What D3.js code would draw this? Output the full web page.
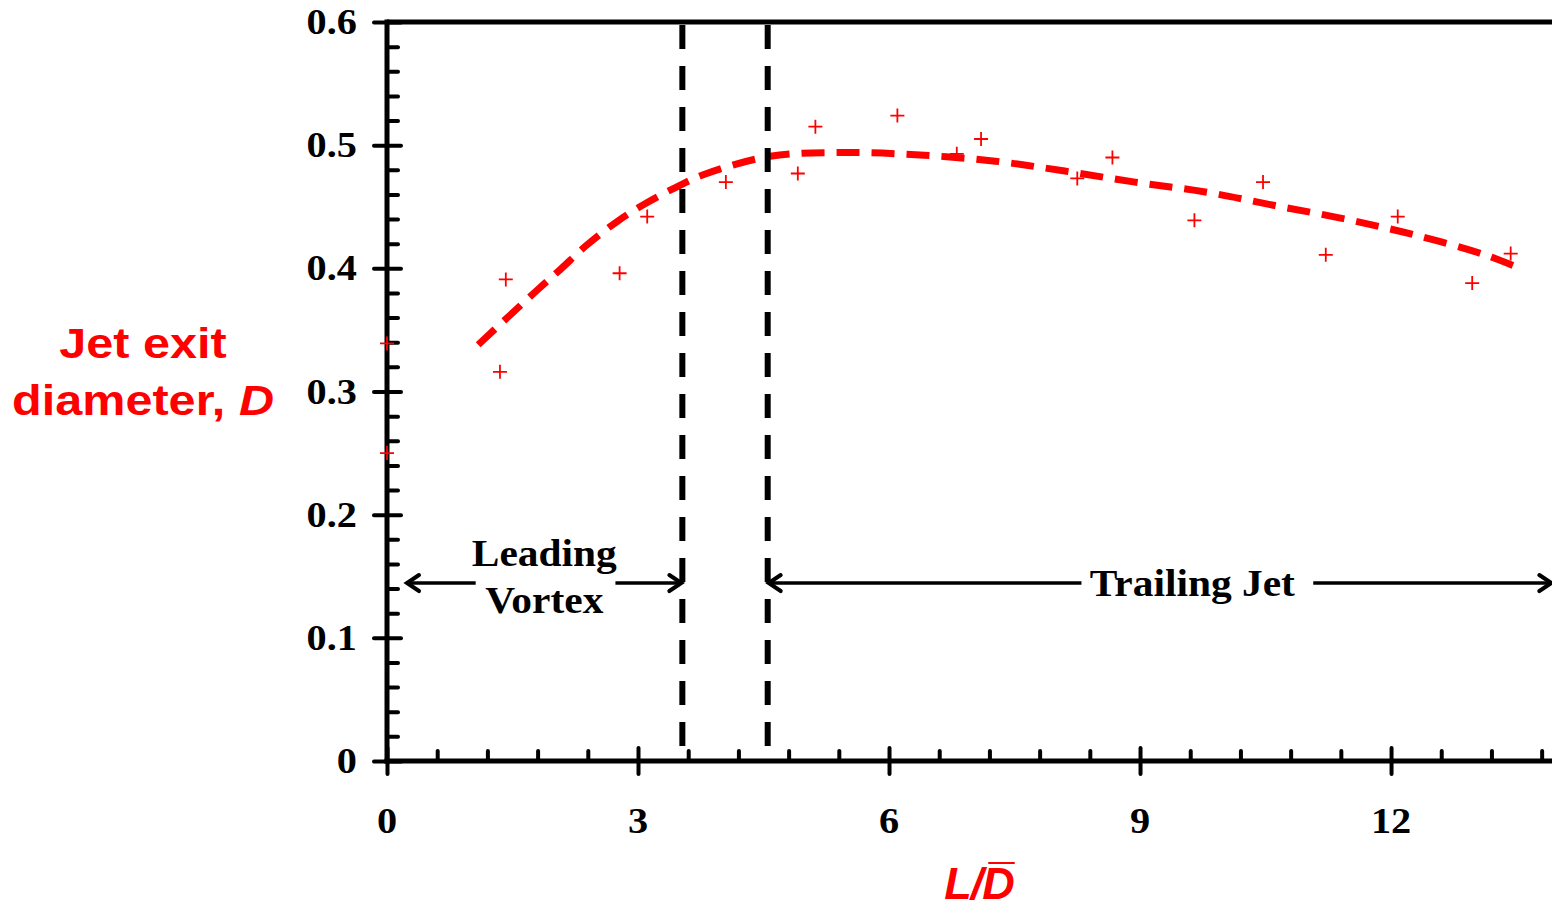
<!DOCTYPE html>
<html>
<head>
<meta charset="utf-8">
<script src="https://cdn.jsdelivr.net/npm/d3@7"></script>
<style>
  html, body { margin: 0; padding: 0; background: #fff; overflow: hidden; }
  svg { display: block; }
  .serif { font-family: "Liberation Serif", "Times New Roman", Times, serif; font-weight: bold; }
  .sans { font-family: "Liberation Sans", Arial, Helvetica, sans-serif; font-weight: bold; }
</style>
</head>
<body>
<svg id="chart" width="1552" height="905"></svg>
<script>
// ---------------- data ----------------
const pointX = [0, 0, 1.35, 1.42, 2.78, 3.11, 4.05, 4.91, 5.12, 6.10, 6.81, 7.10, 8.25, 8.67, 9.65, 10.47, 11.22, 12.08, 12.97, 13.43];
const pointY = [0.339, 0.250, 0.316, 0.391, 0.396, 0.442, 0.470, 0.477, 0.515, 0.524, 0.493, 0.505, 0.473, 0.490, 0.439, 0.470, 0.411, 0.442, 0.388, 0.412];

const trendX = [1.09, 1.79, 2.07, 2.39, 2.75, 3.10, 3.46, 3.78, 4.58, 5.47, 6.37, 7.27, 8.10, 8.94, 9.78, 10.61, 11.45, 12.29, 13.12, 13.54];
const trendY = [0.338, 0.382, 0.399, 0.419, 0.438, 0.453, 0.466, 0.476, 0.491, 0.494, 0.492, 0.487, 0.479, 0.470, 0.462, 0.451, 0.440, 0.427, 0.411, 0.400];

const regionBounds = [3.53, 4.55];       // vertical dashed separators (L/D)
const xMajorTicks = [0, 3, 6, 9, 12];
const yMajorTicks = [0, 0.1, 0.2, 0.3, 0.4, 0.5, 0.6];
const xTickLabels = ["0", "3", "6", "9", "12"];
const yTickLabels = ["0", "0.1", "0.2", "0.3", "0.4", "0.5", "0.6"];
const annotations = ["Leading", "Vortex", "Trailing Jet"];
const yLabelLines = ["Jet exit", "diameter, "];
const yLabelVar = "D";

// ---------------- layout ----------------
const svg = d3.select("#chart");
const SX = 1.12;  // horizontal stretch of the original figure's text
const x = d3.scaleLinear().domain([0, 14]).range([387, 387 + 14 * 83.67]);
const y = d3.scaleLinear().domain([0, 0.6]).range([761, 22]);
const red = "#ff0000";

// trend line (dashed red)
const line = d3.line().x((d, i) => x(trendX[i])).y((d, i) => y(trendY[i])).curve(d3.curveCatmullRom.alpha(0.5));
svg.append("path")
  .attr("d", line(trendX))
  .attr("fill", "none")
  .attr("stroke", red)
  .attr("stroke-width", 7)
  .attr("stroke-dasharray", "23,12");

// vertical dashed separators
svg.selectAll("line.sep").data(regionBounds).join("line")
  .attr("class", "sep")
  .attr("x1", d => x(d)).attr("x2", d => x(d))
  .attr("y1", y(0.6) + 3).attr("y2", y(0))
  .attr("stroke", "#000").attr("stroke-width", 6)
  .attr("stroke-dasharray", "24,17");

// ---------------- axes ----------------
const xMinor = d3.range(0, 14.01, 0.6).filter(v => !xMajorTicks.some(m => Math.abs(m - v) < 1e-6));
const yMinor = d3.range(0, 0.6001, 0.02).filter(v => !yMajorTicks.some(m => Math.abs(m - v) < 1e-6));

// top frame line
svg.append("line")
  .attr("x1", x(0)).attr("x2", x(14))
  .attr("y1", y(0.6)).attr("y2", y(0.6))
  .attr("stroke", "#000").attr("stroke-width", 5);

function styleAxis(g) {
  g.select(".domain").remove();
  g.selectAll(".tick line").attr("stroke", "#000").attr("stroke-width", 4).attr("stroke-linecap", "round");
  g.selectAll(".tick text").remove();
}

svg.append("g").attr("transform", `translate(${x(0)},0)`)
  .call(d3.axisLeft(y).tickValues(yMajorTicks).tickSize(13)).call(styleAxis);
svg.append("g").attr("transform", `translate(${x(0)},0)`)
  .call(d3.axisRight(y).tickValues(yMajorTicks).tickSize(14)).call(styleAxis);
svg.append("g").attr("transform", `translate(${x(0)},0)`)
  .call(d3.axisRight(y).tickValues(yMinor).tickSize(11)).call(styleAxis);

svg.append("g").attr("transform", `translate(0,${y(0)})`)
  .call(d3.axisBottom(x).tickValues(xMajorTicks).tickSize(13)).call(styleAxis);
svg.append("g").attr("transform", `translate(0,${y(0)})`)
  .call(d3.axisTop(x).tickValues(xMajorTicks).tickSize(13)).call(styleAxis);
svg.append("g").attr("transform", `translate(0,${y(0)})`)
  .call(d3.axisTop(x).tickValues(xMinor).tickSize(10)).call(styleAxis);

// axis lines
svg.append("line")
  .attr("x1", x(0)).attr("x2", x(0)).attr("y1", y(0.6) - 2.5).attr("y2", y(0) + 2.5)
  .attr("stroke", "#000").attr("stroke-width", 5);
svg.append("line")
  .attr("x1", x(0) - 2.5).attr("x2", x(14)).attr("y1", y(0)).attr("y2", y(0))
  .attr("stroke", "#000").attr("stroke-width", 5);

// tick labels
svg.selectAll("text.ytl").data(yMajorTicks).join("text")
  .attr("class", "ytl serif")
  .attr("transform", d => `translate(${x(0) - 30},${y(d) + 12}) scale(${SX},1)`)
  .attr("text-anchor", "end")
  .attr("font-size", 36)
  .text((d, i) => yTickLabels[i]);
svg.selectAll("text.xtl").data(xMajorTicks).join("text")
  .attr("class", "xtl serif")
  .attr("transform", d => `translate(${x(d)},${y(0) + 72}) scale(${SX},1)`)
  .attr("text-anchor", "middle")
  .attr("font-size", 36)
  .text((d, i) => xTickLabels[i]);

// scatter "+" markers
const ms = 7;
svg.selectAll("path.pt").data(pointX).join("path")
  .attr("class", "pt")
  .attr("d", (d, i) => `M${x(d) - ms},${y(pointY[i])}H${x(d) + ms}M${x(d)},${y(pointY[i]) - ms}V${y(pointY[i]) + ms}`)
  .attr("stroke", red).attr("stroke-width", 1.8).attr("fill", "none");

// ---------------- annotations ----------------
const arrowY = y(0.1445);
function arrow(x1, x2) { // arrow head at x2
  svg.append("line").attr("x1", x1).attr("x2", x2).attr("y1", arrowY).attr("y2", arrowY)
    .attr("stroke", "#000").attr("stroke-width", 3.5);
  const dir = x2 > x1 ? -1 : 1;
  svg.append("path")
    .attr("d", `M${x2 + dir * 12},${arrowY - 8}L${x2},${arrowY}L${x2 + dir * 12},${arrowY + 8}`)
    .attr("fill", "none").attr("stroke", "#000").attr("stroke-width", 4)
    .attr("stroke-linejoin", "miter").attr("stroke-linecap", "round");
}
arrow(x(1.06), x(0) + 20);
arrow(x(2.73), x(regionBounds[0]) - 1);
arrow(x(8.3), x(regionBounds[1]) + 1);
arrow(x(11.07), x(14) - 7);

function annText(t, cx, by) {
  svg.append("text")
    .attr("class", "serif")
    .attr("transform", `translate(${cx},${by}) scale(${SX},1)`)
    .attr("text-anchor", "middle")
    .attr("font-size", 37)
    .text(t);
}
annText(annotations[0], x(1.88), y(0.158));
annText(annotations[1], x(1.88), y(0.1205));
annText(annotations[2], x(9.625), y(0.134));

// ---------------- axis titles ----------------
const yl = svg.append("text")
  .attr("class", "sans")
  .attr("transform", `translate(143,358) scale(1.13,1)`)
  .attr("text-anchor", "middle")
  .attr("font-size", 43)
  .attr("fill", red);
yl.append("tspan").attr("x", 0).attr("y", 0).text(yLabelLines[0]);
yl.append("tspan").attr("x", 0).attr("y", 57).text(yLabelLines[1])
  .append("tspan").attr("font-style", "italic").text(yLabelVar);

const xl = svg.append("text")
  .attr("class", "sans")
  .attr("transform", `translate(979,899)`)
  .attr("text-anchor", "middle")
  .attr("font-style", "italic").attr("font-size", 45)
  .attr("fill", red)
  .attr("letter-spacing", -1)
  .text("L/D");
const ext = xl.node().getExtentOfChar(2);
svg.append("line")
  .attr("x1", 979 + ext.x + 6).attr("x2", 979 + ext.x + ext.width + 1)
  .attr("y1", 863).attr("y2", 863)
  .attr("stroke", red).attr("stroke-width", 2);
</script>
</body>
</html>
